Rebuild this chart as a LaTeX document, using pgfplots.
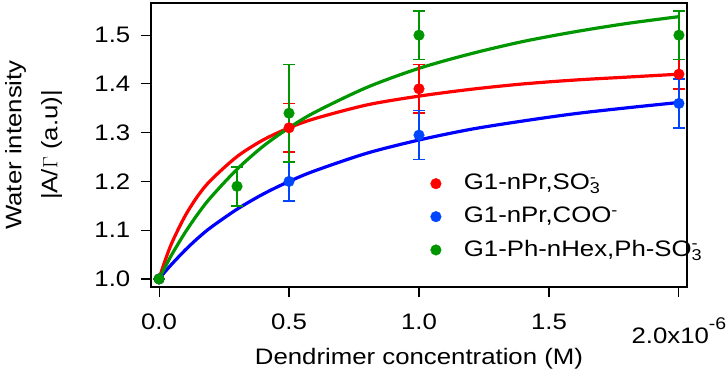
\documentclass[border=0pt]{standalone}
\usepackage{pgfplots}
\pgfplotsset{compat=1.18}
\usepackage{fontspec}
\setmainfont[FakeStretch=1.15]{Liberation Sans}
\definecolor{cred}{RGB}{255,0,0}
\definecolor{cblue}{RGB}{0,0,255}
\definecolor{cbluem}{RGB}{0,70,255}
\definecolor{cgreen}{RGB}{0,150,0}
\begin{document}
\begin{tikzpicture}
\fontsize{22.5}{27}\selectfont
\begin{axis}[
  name=ax,
  scale only axis,
  width=536bp, height=284bp,
  xmin=-0.031, xmax=2.031,
  ymin=0.9835, ymax=1.566,
  axis line style={line width=1.3pt},
  tick style={line width=1.1pt, black},
  tick align=outside,
  major tick length=10bp,
  xtick pos=bottom, ytick pos=left,
  xtick={0,0.5,1.0,1.5,2.0},
  xticklabels={0.0,0.5,1.0,1.5,{}},
  ytick={1.0,1.1,1.2,1.3,1.4,1.5},
  yticklabel style={/pgf/number format/fixed, /pgf/number format/fixed zerofill, /pgf/number format/precision=1, /pgf/number format/assume math mode=true, xshift=-3bp},
  ticklabel style={font=\fontsize{22.5}{27}\selectfont},
  xticklabel style={yshift=-9bp},
  xlabel={Dendrimer concentration (M)},
  xlabel style={font=\fontsize{22.5}{27}\selectfont, yshift=-4bp},
  ylabel={\begin{tabular}{c}Water intensity\\[9bp]|A/$\Gamma$ (a.u)|\end{tabular}},
  ylabel style={font=\fontsize{22.5}{27}\selectfont, yshift=14bp},
  legend style={at={(axis description cs:0.52,0.405)}, anchor=north west, draw=none, fill=none,
    font=\fontsize{22.5}{27}\selectfont, row sep=10bp, inner sep=0pt},
  legend cell align=left,
  legend image code/.code={\draw[#1] plot[only marks] coordinates {(0bp,0bp)}; \path[draw=none] (-6bp,0bp) -- (26bp,0bp);},
  clip=false,
]
% fitted curves
\addplot[cred, line width=3.2bp, smooth, forget plot] coordinates {
(0,1.000)(0.02,1.033)(0.05,1.075)(0.1,1.129)(0.15,1.171)(0.2,1.203)(0.3,1.251)(0.4,1.285)(0.5,1.310)(0.6,1.329)(0.8,1.357)(1.0,1.375)(1.2,1.389)(1.4,1.400)(1.6,1.408)(1.8,1.414)(2.0,1.420)};
\addplot[cblue, line width=3.2bp, smooth, forget plot] coordinates {
(0,1.000)(0.02,1.013)(0.05,1.031)(0.1,1.059)(0.15,1.084)(0.2,1.106)(0.3,1.143)(0.4,1.174)(0.5,1.200)(0.6,1.222)(0.8,1.258)(1.0,1.285)(1.2,1.307)(1.4,1.324)(1.6,1.339)(1.8,1.351)(2.0,1.362)};
\addplot[cgreen, line width=3.2bp, smooth, forget plot] coordinates {
(0,1.000)(0.02,1.021)(0.05,1.051)(0.1,1.095)(0.15,1.134)(0.2,1.168)(0.3,1.225)(0.4,1.272)(0.5,1.310)(0.6,1.342)(0.8,1.393)(1.0,1.432)(1.2,1.462)(1.4,1.487)(1.6,1.507)(1.8,1.524)(2.0,1.538)};
% data points
\addplot[only marks, mark=*, mark size=5.3bp, color=cred,
  error bars/.cd, y dir=both, y explicit,
  error bar style={line width=1.4bp, cred},
  error mark options={rotate=90, mark size=6bp, line width=1.4bp, cred}]
  coordinates {(0,1.0) +- (0,0) (0.5,1.31) +- (0,0.05) (1.0,1.39) +- (0,0.05) (2.0,1.42) +- (0,0.03)};
\addlegendentry{G1-nPr,SO\rlap{\textsubscript{3}}\textsuperscript{-}}
\addplot[only marks, mark=*, mark size=5.3bp, color=cbluem,
  error bars/.cd, y dir=both, y explicit,
  error bar style={line width=1.4bp, cbluem},
  error mark options={rotate=90, mark size=6bp, line width=1.4bp, cbluem}]
  coordinates {(0,1.0) +- (0,0) (0.5,1.20) +- (0,0.04) (1.0,1.295) +- (0,0.05) (2.0,1.36) +- (0,0.05)};
\addlegendentry{G1-nPr,COO\textsuperscript{-}}
\addplot[only marks, mark=*, mark size=5.3bp, color=cgreen,
  error bars/.cd, y dir=both, y explicit,
  error bar style={line width=1.4bp, cgreen},
  error mark options={rotate=90, mark size=6bp, line width=1.4bp, cgreen}]
  coordinates {(0,1.0) +- (0,0) (0.3,1.19) +- (0,0.04) (0.5,1.34) +- (0,0.10) (1.0,1.50) +- (0,0.05) (2.0,1.50) +- (0,0.05)};
\addlegendentry{G1-Ph-nHex,Ph-SO\rlap{\textsubscript{3}}\textsuperscript{-}}
\node[anchor=base, inner sep=0pt, yshift=-56bp, font=\fontsize{22.5}{27}\selectfont] at (axis cs:2.0,0.9835)
  {2.0x10\raisebox{1.1ex}{\fontsize{17}{17}\selectfont -6}};
\end{axis}
\pgfresetboundingbox
\path[use as bounding box] (-151bp,-83bp) rectangle (577bp,287bp);
\end{tikzpicture}
\end{document}
